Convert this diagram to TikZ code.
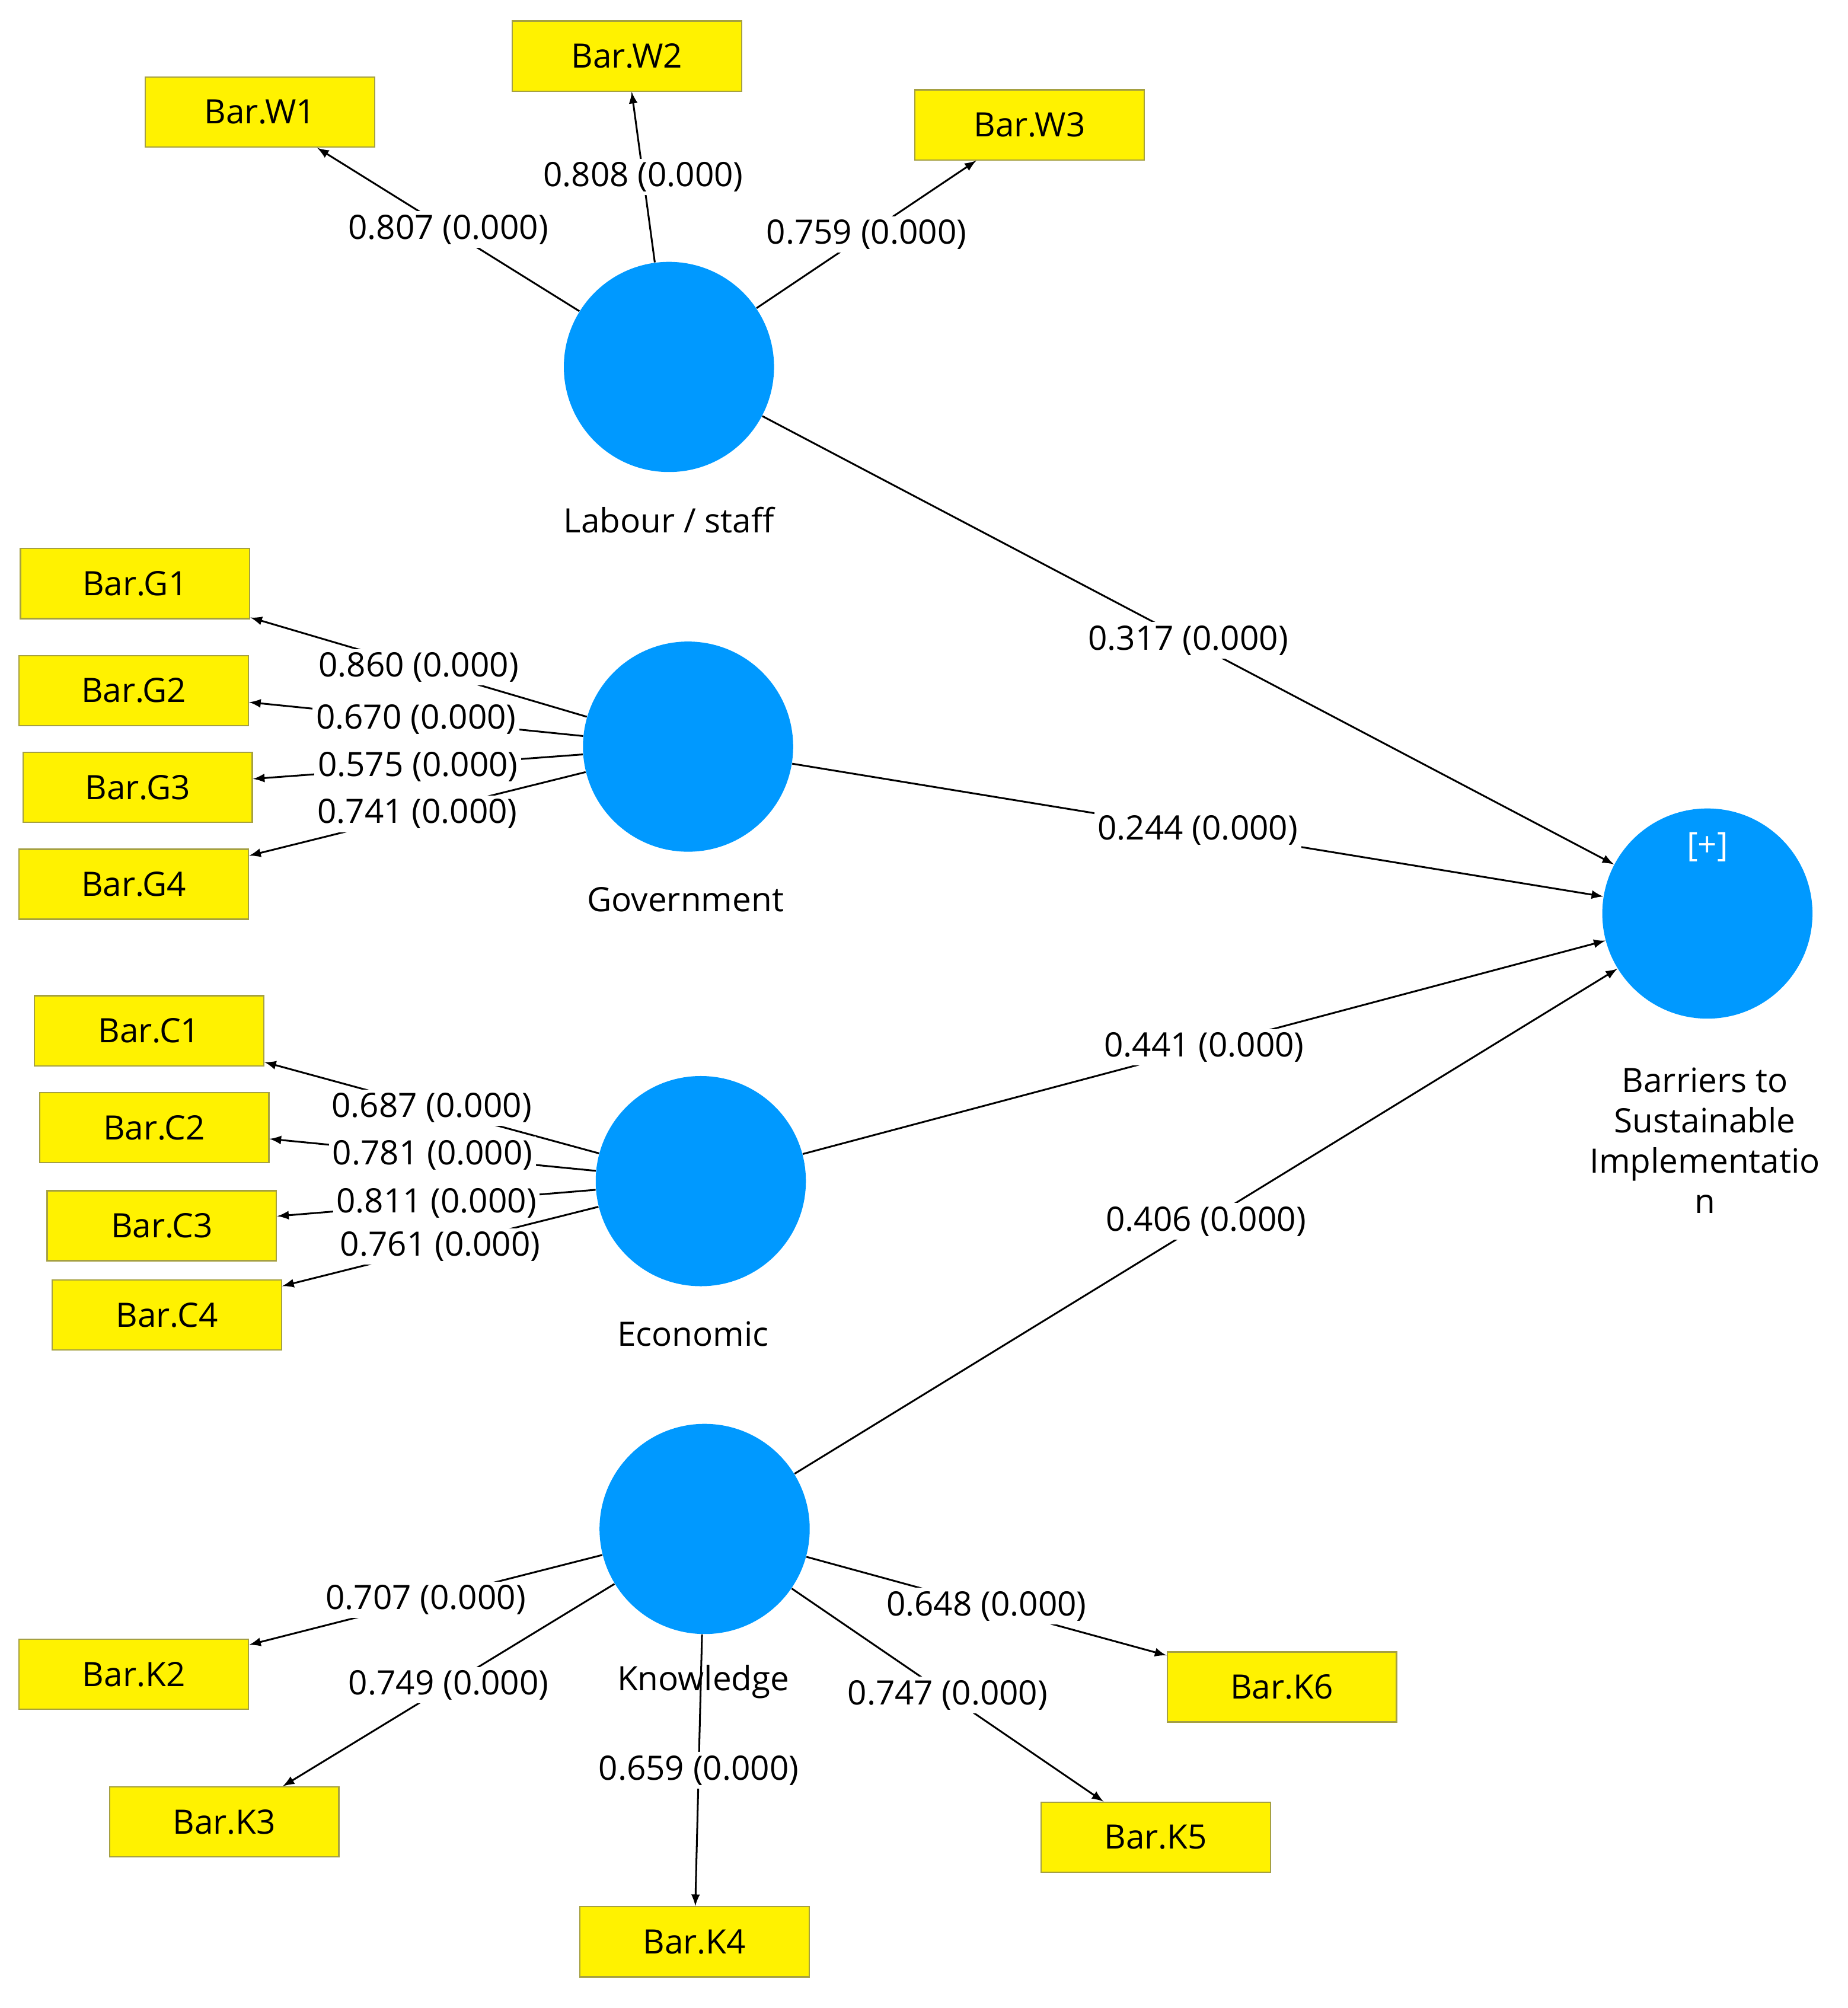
\documentclass[tikz,border=0pt]{standalone}
\usepackage{fontspec}
\setmainfont{Open Sans}
\begin{document}
\begin{tikzpicture}[x=0.02cm,y=-0.02cm,
  lv/.style={circle,fill=lvc,draw=none,minimum size=3.3cm,inner sep=0},
  ind/.style={rectangle,fill=yellow,draw=yellow!60!black,line width=0.6pt,minimum width=3.6cm,minimum height=1.1cm,font=\fontsize{15}{18}\selectfont},
  lvname/.style={font=\fontsize{15}{18}\selectfont,align=center},
  lbl/.style={fill=white,inner sep=1.5pt,font=\fontsize{15}{18}\selectfont},
  ar/.style={draw=black,line width=0.8pt,-latex}]
\definecolor{lvc}{HTML}{0099FF}
\useasboundingbox (0,0) rectangle (1450,1576);
\node[lv] (lab) at (525,288) {};
\node[lv] (gov) at (540,586) {};
\node[lv] (eco) at (550,927) {};
\node[lv] (kno) at (553,1200) {};
\node[lv] (bar) at (1340,717) {};
\node[lvname,text=white] (plus) at (1340,665) {[+]};
\node[lvname] (tlab) at (525,408) {Labour / staff};
\node[lvname] (tgov) at (538,706) {Government};
\node[lvname] (teco) at (544,1047) {Economic};
\node[lvname] (tkno) at (552,1320) {Knowledge};
\node[lvname] (tbar) at (1338,895) {Barriers to\\Sustainable\\Implementatio\\n};
\foreach \n/\x/\y/\t in {w1/204/88/Bar.W1,w2/492/44/Bar.W2,w3/808/98/Bar.W3,
  g1/106/458/Bar.G1,g2/105/542/Bar.G2,g3/108/618/Bar.G3,g4/105/694/Bar.G4,
  c1/117/809/Bar.C1,c2/121/885/Bar.C2,c3/127/962/Bar.C3,c4/131/1032/Bar.C4,
  k2/105/1314/Bar.K2,k3/176/1430/Bar.K3,k4/545/1524/Bar.K4,k5/907/1442/Bar.K5,k6/1006/1324/Bar.K6}
  \node[ind] (\n) at (\x,\y) {\t};
\draw[ar] (lab) -- (w1) node[lbl,pos=0.5] {0.807 (0.000)};
\draw[ar] (lab) -- (w2) node[lbl,pos=0.5] {0.808 (0.000)};
\draw[ar] (lab) -- (w3) node[lbl,pos=0.5] {0.759 (0.000)};
\draw[ar] (gov) -- (g1) node[lbl,pos=0.5] {0.860 (0.000)};
\draw[ar] (gov) -- (g2) node[lbl,pos=0.5] {0.670 (0.000)};
\draw[ar] (gov) -- (g3) node[lbl,pos=0.5] {0.575 (0.000)};
\draw[ar] (gov) -- (g4) node[lbl,pos=0.5] {0.741 (0.000)};
\draw[ar] (eco) -- (c1) node[lbl,pos=0.5] {0.687 (0.000)};
\draw[ar] (eco) -- (c2) node[lbl,pos=0.5] {0.781 (0.000)};
\draw[ar] (eco) -- (c3) node[lbl,pos=0.5] {0.811 (0.000)};
\draw[ar] (eco) -- (c4) node[lbl,pos=0.5] {0.761 (0.000)};
\draw[ar] (kno) -- (k2) node[lbl,pos=0.5] {0.707 (0.000)};
\draw[ar] (kno) -- (k3) node[lbl,pos=0.5] {0.749 (0.000)};
\draw[ar] (kno) -- (k4) node[lbl,pos=0.5] {0.659 (0.000)};
\draw[ar] (kno) -- (k5) node[lbl,pos=0.5] {0.747 (0.000)};
\draw[ar] (kno) -- (k6) node[lbl,pos=0.5] {0.648 (0.000)};
\draw[ar] (lab) -- (bar) node[lbl,pos=0.5] {0.317 (0.000)};
\draw[ar] (gov) -- (bar) node[lbl,pos=0.5] {0.244 (0.000)};
\draw[ar] (eco) -- (bar) node[lbl,pos=0.5] {0.441 (0.000)};
\draw[ar] (kno) -- (bar) node[lbl,pos=0.5] {0.406 (0.000)};
\end{tikzpicture}
\end{document}
